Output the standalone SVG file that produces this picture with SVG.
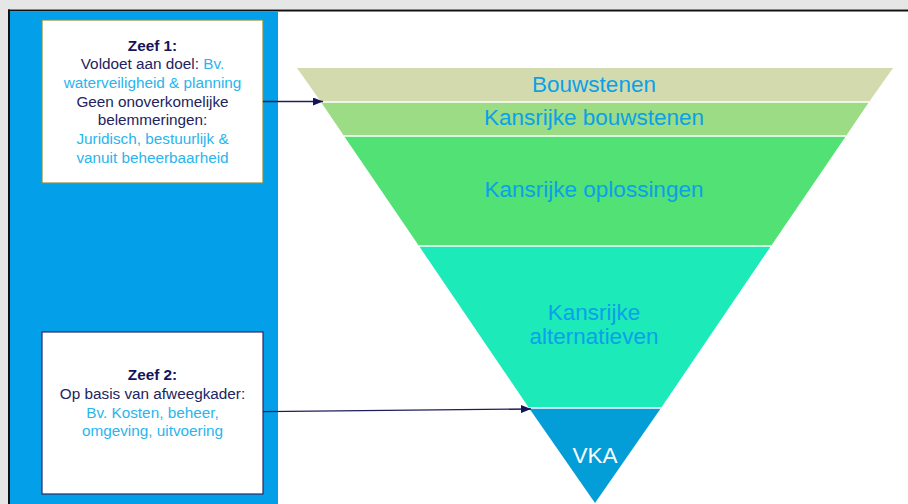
<svg xmlns="http://www.w3.org/2000/svg" width="908" height="504" viewBox="0 0 908 504">
<defs>
<style>
text{font-family:"Liberation Sans",Arial,sans-serif}
.box{fill:#fff;stroke-width:1.2}
.zt{font-size:15.3px;fill:#23235e;text-anchor:middle}
.zb{font-weight:bold;fill:#14145a}
.lb{fill:#29b5ee}
.ft{font-size:22.5px;fill:#0aa0ea;text-anchor:middle}
.sep{stroke:#fff;stroke-width:1.5}
.con{stroke:#1e1e5a;stroke-width:1.3;fill:none}
</style>
<marker id="ah" viewBox="0 0 10 8" refX="10" refY="4" markerWidth="10" markerHeight="8" markerUnits="userSpaceOnUse" orient="auto">
<path d="M0,0 L10,4 L0,8 Z" fill="#14145a"/>
</marker>
</defs>
<rect x="0" y="0" width="908" height="504" fill="#fff"/>
<rect x="0" y="0" width="908" height="9" fill="#e6e6e6"/>
<rect x="0" y="0" width="8" height="504" fill="#e6e6e6"/>
<rect x="8" y="9.5" width="900" height="2" fill="#111"/>
<rect x="8" y="9.5" width="2" height="494.5" fill="#111"/>
<rect x="10" y="11.5" width="268" height="492.5" fill="#039fe8"/>

<g id="funnel">
<polygon points="297,68 893,68 869,102 321,102" fill="#d3dbae"/>
<polygon points="321,102 869,102 846,136 344,136" fill="#9bdc84"/>
<polygon points="344,136 846,136 771,246 419,246" fill="#51e175"/>
<polygon points="419,246 771,246 661,408 529,408" fill="#1ceab9"/>
<polygon points="529,408 661,408 595,503" fill="#039dd8"/>
<line class="sep" x1="321" y1="102" x2="869" y2="102"/>
<line class="sep" x1="344" y1="136" x2="846" y2="136"/>
<line class="sep" x1="419" y1="246" x2="771" y2="246"/>
<line class="sep" x1="529" y1="408" x2="661" y2="408"/>
</g>
<g id="bouwstenen"><text class="ft" x="594" y="92">Bouwstenen</text></g>
<g id="kansrijke-bouwstenen"><text class="ft" x="594" y="125">Kansrijke bouwstenen</text></g>
<g id="kansrijke-oplossingen"><text class="ft" x="594" y="197">Kansrijke oplossingen</text></g>
<g id="kansrijke-alternatieven"><text class="ft" x="594" y="320">Kansrijke</text><text class="ft" x="594" y="344">alternatieven</text></g>
<g id="vka"><text class="ft" x="595" y="463" style="fill:#fff">VKA</text></g>

<g id="zeef1">
<rect class="box" x="42" y="20" width="221" height="163" stroke="#8c8f3a"/>
<text class="zt" x="152.5" y="50.5"><tspan class="zb">Zeef 1:</tspan></text>
<text class="zt" x="152.5" y="69">Voldoet aan doel: <tspan class="lb">Bv.</tspan></text>
<text class="zt lb" x="152.5" y="88">waterveiligheid &amp; planning</text>
<text class="zt" x="152.5" y="106.5">Geen onoverkomelijke</text>
<text class="zt" x="152.5" y="125">belemmeringen:</text>
<text class="zt lb" x="152.5" y="144">Juridisch, bestuurlijk &amp;</text>
<text class="zt lb" x="152.5" y="162.5">vanuit beheerbaarheid</text>
</g>

<g id="zeef2">
<rect class="box" x="42" y="332" width="221" height="162" stroke="#2a2a66"/>
<text class="zt" x="152.5" y="380"><tspan class="zb">Zeef 2:</tspan></text>
<text class="zt" x="152.5" y="398.5">Op basis van afweegkader:</text>
<text class="zt lb" x="152.5" y="417.5">Bv. Kosten, beheer,</text>
<text class="zt lb" x="152.5" y="436">omgeving, uitvoering</text>
</g>

<g id="connectors">
<line class="con" x1="263" y1="101.5" x2="323" y2="101.5" marker-end="url(#ah)"/>
<line class="con" x1="263" y1="411.7" x2="531" y2="409" marker-end="url(#ah)"/>
</g>
</svg>
